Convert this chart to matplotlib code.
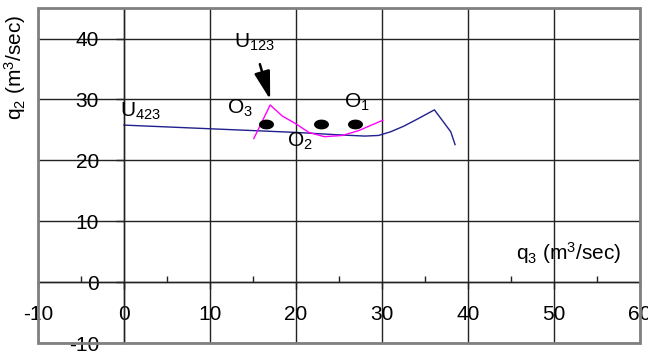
import numpy as np
import matplotlib
matplotlib.use("Agg")
import matplotlib.pyplot as plt
from matplotlib.patches import Rectangle
from matplotlib.path import Path
from matplotlib.ticker import MultipleLocator

plt.rcParams['font.family'] = ['Liberation Sans', 'DejaVu Sans']
plt.rcParams['mathtext.default'] = 'regular'
plt.rcParams['axes.unicode_minus'] = False

# U423 boundary curve
u423_x = [0, 5, 10, 15, 20, 25, 28, 29.6, 31, 32.5, 34, 36.1, 37, 38, 38.5]
u423_y = [25.8, 25.5, 25.2, 24.9, 24.6, 24.2, 24.0, 24.1, 24.7, 25.6, 26.7, 28.3, 26.6, 24.7, 22.6]

# U123 boundary curve
u123_x = [15.1, 17.0, 18.4, 20.0, 21.5, 23.3, 25.4, 27.3, 30.1]
u123_y = [23.6, 29.1, 27.3, 26.0, 24.6, 23.9, 24.1, 24.9, 26.6]

# operating points O3, O2, O1
pts_x = [16.5, 22.9, 26.9]
pts_y = [26.0, 26.0, 26.0]

fig = plt.figure(figsize=(6.48, 3.54), dpi=100)
ax = fig.add_axes([0.0586, 0.0302, 0.9290, 0.9470])

ax.set_xlim(-10, 60)
ax.set_ylim(-10, 45)

# axes crossing at the origin
ax.spines['left'].set_position(('data', 0))
ax.spines['bottom'].set_position(('data', 0))
for s in ['top', 'right']:
    ax.spines[s].set_visible(False)
for s in ['left', 'bottom']:
    ax.spines[s].set_linewidth(1)
    ax.spines[s].set_color('#222222')

ax.xaxis.set_major_locator(MultipleLocator(10))
ax.xaxis.set_minor_locator(MultipleLocator(5))
ax.yaxis.set_major_locator(MultipleLocator(10))
ax.tick_params(axis='x', which='major', direction='out', length=5, width=1,
               pad=11, labelsize=15, color='#222222')
ax.tick_params(axis='x', which='minor', direction='in', length=4, width=1,
               color='#222222')
ax.tick_params(axis='y', which='major', direction='out', length=6, width=1,
               pad=12, labelsize=15, color='#222222')
ax.set_xticks(np.arange(-10, 61, 10))
ax.set_yticks(np.arange(-10, 41, 10))

ax.grid(True, which='major', color='#222222', linewidth=1)
ax.set_axisbelow(True)

# outer grey frame
ax.add_patch(Rectangle((0, 0), 1, 1, transform=ax.transAxes, fill=False,
                       ec='#808080', lw=2, clip_on=False, zorder=5))

ax.plot(u423_x, u423_y, color='#1f1f8f', lw=1)
ax.plot(u123_x, u123_y, color='#ff00ff', lw=1)

# elliptical marker
t = np.linspace(0, 2 * np.pi, 60)
ell = Path(np.column_stack([np.cos(t), 0.62 * np.sin(t)]), closed=True)
ax.scatter(pts_x, pts_y, marker=ell, s=95, color='black', zorder=4)

ax.text(12.8, 39.3, 'U$_{123}$', fontsize=15, ha='left', va='center')
ax.text(-0.5, 28.0, 'U$_{423}$', fontsize=15, ha='left', va='center')
ax.text(12.0, 28.6, 'O$_{3}$', fontsize=15, ha='left', va='center')
ax.text(19.0, 23.1, 'O$_{2}$', fontsize=15, ha='left', va='center')
ax.text(25.6, 29.5, 'O$_{1}$', fontsize=15, ha='left', va='center')

ax.annotate('', xy=(17.0, 30.0), xytext=(15.8, 35.8),
            arrowprops=dict(arrowstyle='-|>,head_length=0.95,head_width=0.27',
                            color='black', lw=1.8, mutation_scale=18,
                            shrinkA=0, shrinkB=0))

ax.text(45.6, 4.8, 'q$_{3}$ (m$^{3}$/sec)', fontsize=15, ha='left', va='center')
fig.text(0.023, 0.81, 'q$_{2}$ (m$^{3}$/sec)', fontsize=15, rotation=90,
         ha='center', va='center')

fig.savefig('out.png', dpi=100)
